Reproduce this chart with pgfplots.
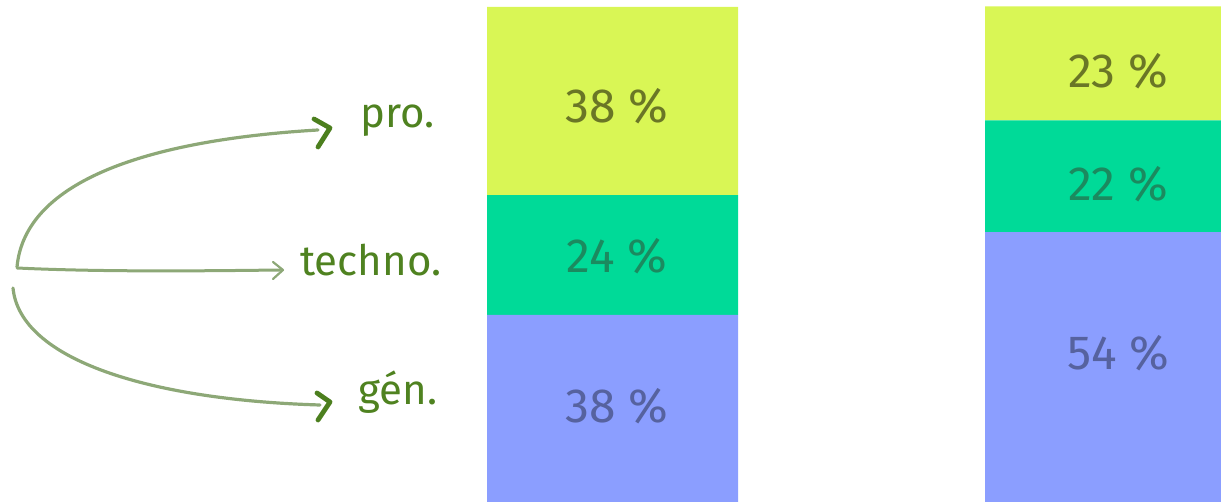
\documentclass[border=0pt]{standalone}
\usepackage{pgfplots}
\pgfplotsset{compat=1.18}
\usepackage{fontspec}
\setmainfont{Fira Sans}
\definecolor{cpro}{HTML}{D9F655}
\definecolor{ctech}{HTML}{00DA98}
\definecolor{cgen}{HTML}{8B9EFF}
\definecolor{tpro}{HTML}{6A7626}
\definecolor{ttech}{HTML}{1B8A5F}
\definecolor{tgen}{HTML}{56629F}
\definecolor{tleft}{HTML}{4F8220}
\definecolor{carrow}{HTML}{8DA877}
\definecolor{chev}{HTML}{4C7F1E}
\begin{document}
\begin{tikzpicture}
\useasboundingbox (0,0) rectangle (610.5pt,251pt);
\begin{axis}[
  at={(0,0)}, anchor=south west,
  scale only axis, width=610.5pt, height=251pt,
  xmin=0, xmax=1221, ymin=0, ymax=101.41,
  axis lines=none, ticks=none,
  ybar stacked, bar width=125.5pt, bar shift=0pt,
  clip=true,
]
\addplot[fill=cgen, draw=none] coordinates {(612.5,37.8) (1110.5,54.5)};
\addplot[fill=ctech, draw=none] coordinates {(612.5,24.2) (1110.5,22.6)};
\addplot[fill=cpro, draw=none] coordinates {(612.5,38) (1110.5,23)};
\end{axis}
\begin{scope}[x=0.5pt,y=-0.5pt,yshift=251pt]
  % percent labels
  \tikzset{pl/.style={font=\fontsize{24}{26}\selectfont}}
  \node[tpro, pl] at (617,106) {38 \%};
  \node[ttech, pl] at (617,256) {24 \%};
  \node[tgen, pl] at (617,406) {38 \%};
  \node[tpro, pl] at (1118,71) {23 \%};
  \node[ttech, pl] at (1118,184) {22 \%};
  \node[tgen, pl] at (1118,353) {54 \%};
  % left labels
  \tikzset{ll/.style={tleft, anchor=base west, inner sep=0pt, font=\fontsize{21}{23}\selectfont}}
  \node[ll] at (360,128) {pro.};
  \node[ll] at (300,276) {techno.};
  \node[ll] at (358,405) {gén.};
  % arrows
  \draw[carrow, line width=1.6pt, line cap=round] (17,267) .. controls (25,180) and (150,140) .. (318,130);
  \draw[chev, line width=2.4pt, line cap=round, line join=round] (314,119) -- (330,128) -- (318,147);
  \draw[carrow, line width=1.5pt, line cap=round] (17,268) .. controls (100,272) and (200,271) .. (280,270);
  \draw[carrow, line width=1.1pt, line cap=round, line join=round] (273,262) -- (283,270) -- (273,279);
  \draw[carrow, line width=1.6pt, line cap=round] (13,288) .. controls (20,360) and (150,400) .. (320,405);
  \draw[chev, line width=2.4pt, line cap=round, line join=round] (317,393) -- (330,402) -- (318,420);
\end{scope}
\end{tikzpicture}
\end{document}
